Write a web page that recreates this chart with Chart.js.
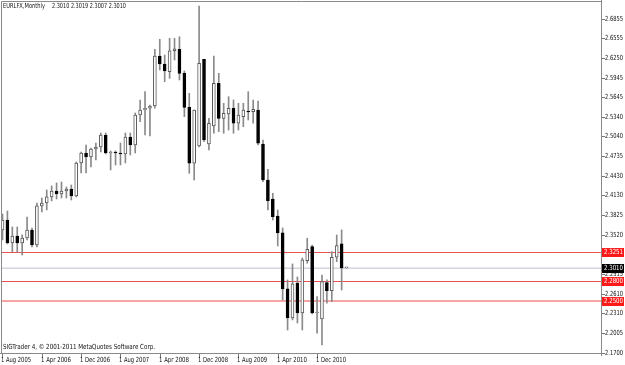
<!DOCTYPE html>
<html><head><meta charset="utf-8">
<script src="https://cdn.jsdelivr.net/npm/chart.js@4/dist/chart.umd.min.js"></script>
<style>html,body{margin:0;padding:0;background:#fff;overflow:hidden}canvas{display:block}</style>
</head><body>
<canvas id="c" width="625" height="365"></canvas>
<script>
const months = ["Aug 2005","Sep 2005","Oct 2005","Nov 2005","Dec 2005",
"Jan 2006","Feb 2006","Mar 2006","Apr 2006","May 2006","Jun 2006","Jul 2006","Aug 2006","Sep 2006","Oct 2006","Nov 2006","Dec 2006",
"Jan 2007","Feb 2007","Mar 2007","Apr 2007","May 2007","Jun 2007","Jul 2007","Aug 2007","Sep 2007","Oct 2007","Nov 2007","Dec 2007",
"Jan 2008","Feb 2008","Mar 2008","Apr 2008","May 2008","Jun 2008","Jul 2008","Aug 2008","Sep 2008","Oct 2008","Nov 2008","Dec 2008",
"Jan 2009","Feb 2009","Mar 2009","Apr 2009","May 2009","Jun 2009","Jul 2009","Aug 2009","Sep 2009","Oct 2009","Nov 2009","Dec 2009",
"Jan 2010","Feb 2010","Mar 2010","Apr 2010","May 2010","Jun 2010","Jul 2010","Aug 2010","Sep 2010","Oct 2010","Nov 2010","Dec 2010",
"Jan 2011","Feb 2011","Mar 2011","Apr 2011","May 2011","Jun 2011"];

const openP = [2.3596,2.3750,2.3395,2.3503,2.3395,2.3472,2.3596,2.3364,2.3967,2.4013,
2.4106,2.4198,2.4152,2.4198,2.4229,2.4121,2.4631,2.4785,2.4723,2.4847,
2.4878,2.5063,2.4785,2.4801,2.4785,2.4770,2.5032,2.4909,2.5372,2.5449,
2.5476,2.5511,2.6283,2.6160,2.6041,2.6365,2.6387,2.6016,2.5491,2.4627,
2.4893,2.6233,2.4924,2.5202,2.5862,2.5321,2.5388,2.5476,2.5244,2.5346,
2.5434,2.5423,2.5449,2.4924,2.4368,2.4075,2.3812,2.3550,2.2685,2.2237,
2.2777,2.2314,2.3122,2.3338,2.2314,2.2221,2.2782,2.2658,2.3174,2.3380,2.3010];
const highP = [2.3843,2.3889,2.3642,2.3642,2.3519,2.3797,2.3627,2.4013,2.4090,2.4214,
2.4276,2.4322,2.4337,2.4260,2.4291,2.4646,2.4801,2.4909,2.4862,2.4940,
2.5094,2.5094,2.4816,2.4816,2.4940,2.5094,2.5094,2.5403,2.5604,2.5732,
2.5527,2.6387,2.6541,2.6299,2.6557,2.6557,2.6582,2.6052,2.5707,2.5449,
2.7056,2.6233,2.5321,2.6283,2.6016,2.5553,2.5655,2.5604,2.5553,2.5553,
2.5732,2.5604,2.5588,2.4986,2.4534,2.4163,2.3905,2.3627,2.2824,2.3071,
2.2870,2.3163,2.3468,2.3364,2.2566,2.2901,2.2824,2.3261,2.3519,2.3596,2.3019];
const lowP = [2.3441,2.3380,2.3256,2.3256,2.3210,2.3441,2.3333,2.3333,2.3874,2.3905,
2.4044,2.4075,2.4090,2.4090,2.4059,2.4106,2.4476,2.4476,2.4569,2.4677,
2.4801,2.4770,2.4523,2.4600,2.4600,2.4631,2.4754,2.4785,2.5269,2.5063,
2.5048,2.5476,2.6067,2.5887,2.5939,2.6222,2.5913,2.5346,2.4472,2.4368,
2.4880,2.4960,2.4832,2.5090,2.5114,2.5090,2.5140,2.5090,2.5140,2.5191,
2.5295,2.5244,2.4909,2.4342,2.3905,2.3750,2.3349,2.2515,2.2051,2.2206,
2.2159,2.2051,2.3082,2.2298,2.2000,2.1820,2.2464,2.2488,2.3106,2.2669,2.3007];
const closeP = [2.3750,2.3395,2.3503,2.3395,2.3472,2.3596,2.3364,2.3967,2.4013,2.4106,
2.4198,2.4152,2.4198,2.4229,2.4121,2.4631,2.4785,2.4723,2.4847,2.4878,
2.5063,2.4785,2.4801,2.4785,2.4770,2.5032,2.4909,2.5372,2.5449,2.5476,
2.5511,2.6283,2.6160,2.6052,2.6365,2.6396,2.6016,2.5491,2.4627,2.5449,
2.6171,2.4986,2.5244,2.5862,2.5321,2.5398,2.5476,2.5244,2.5372,2.5449,
2.5419,2.5460,2.4935,2.4368,2.4049,2.3801,2.3550,2.2685,2.2237,2.2762,
2.2314,2.3133,2.3298,2.2314,2.2329,2.2797,2.2658,2.3174,2.3353,2.3010,2.3010];

const priceTicks = [2.6855,2.6555,2.6250,2.5945,2.5645,2.5340,2.5040,2.4735,2.4430,2.4130,2.3825,2.3520,2.3215,2.2915,2.2610,2.2310,2.2005,2.1700];
const redLevels = [2.3251, 2.2800, 2.2500];
const bidPrice = 2.3010;
const headerSymbol = "EURLFX,Monthly";
const headerValues = "2.3010 2.3019 2.3007 2.3010";
const footerText = "SIGTrader 4, \u00A9 2001-2011 MetaQuotes Software Corp.";
const dateLabelEvery = 8;

const wickData = months.map((m,i)=>({x:i, y:[lowP[i], highP[i]]}));
const bodyData = months.map((m,i)=>({x:i, y:[Math.min(openP[i],closeP[i]), Math.max(openP[i],closeP[i])]}));
const bull = months.map((m,i)=>closeP[i] >= openP[i]);

const FONT = '7px "DejaVu Sans"';

const mt4 = {
  id:'mt4',
  beforeDatasetsDraw(chart){
    const ctx = chart.ctx, y = chart.scales.y, a = chart.chartArea;
    ctx.save();
    // bid line
    let py = Math.round(y.getPixelForValue(bidPrice));
    ctx.fillStyle = '#d4d4dc';
    ctx.fillRect(a.left, py-0.5, a.right-a.left, 1.5);
    redLevels.forEach((v,k)=>{
      const p = Math.round(y.getPixelForValue(v));
      if (k === 2) { ctx.fillStyle = '#f6a4a4'; ctx.fillRect(a.left, p-1, a.right-a.left, 2); }
      else { ctx.fillStyle = '#e85252'; ctx.fillRect(a.left, p, a.right-a.left, 1); }
    });
    ctx.restore();
  },
  afterDatasetsDraw(chart){
    const ctx = chart.ctx, ys = chart.scales.y, xs = chart.scales.x, a = chart.chartArea;
    ctx.save();
    // frame
    ctx.strokeStyle = '#8a8a8a'; ctx.lineWidth = 1;
    ctx.beginPath();
    ctx.moveTo(1.5, 1.5); ctx.lineTo(601.5, 1.5);
    ctx.moveTo(1.5, 1.5); ctx.lineTo(1.5, 353.5);
    ctx.moveTo(0, 353.5); ctx.lineTo(602, 353.5);
    ctx.moveTo(601.5, 0); ctx.lineTo(601.5, 356);
    ctx.stroke();
    ctx.font = FONT; ctx.textBaseline = 'middle'; ctx.textAlign = 'left';
    // price ticks
    priceTicks.forEach(v=>{
      const p = Math.round(ys.getPixelForValue(v));
      ctx.fillStyle = '#777'; ctx.fillRect(602, p, 3, 1);
      ctx.fillStyle = '#111';
      ctx.fillText(v.toFixed(4), 605, p+0.5, 18);
    });
    // tags
    const tag = (v, bg)=>{
      const p = Math.round(ys.getPixelForValue(v));
      ctx.fillStyle = bg; ctx.fillRect(602, p-4, 22, 9);
      ctx.fillStyle = '#fff'; ctx.fillText(v.toFixed(4), 604, p+0.5, 19);
    };
    redLevels.forEach(v=>tag(v, '#ff1a1a'));
    tag(bidPrice, '#000');
    // date axis
    for (let i = 0; i < months.length; i += dateLabelEvery) {
      const px = Math.round(xs.getPixelForValue(i));
      ctx.fillStyle = '#777'; ctx.fillRect(px, 354, 1, 4);
      ctx.fillStyle = '#111';
      ctx.fillText('1 ' + months[i], px - 1, 360.5, 30);
    }
    // header & footer
    ctx.fillStyle = '#111';
    ctx.fillText(headerSymbol, 3, 6.5, 42);
    ctx.fillText(headerValues, 52, 6.5, 74);
    ctx.fillText(footerText, 3, 347.5, 152);
    ctx.restore();
  }
};

new Chart(document.getElementById('c'), {
  type:'bar',
  data:{
    labels: months,
    datasets:[
      {label:'wick', data: wickData, backgroundColor:'#8a8a8a', barThickness:1, grouped:false, order:2, borderWidth:0},
      {label:'body', data: bodyData,
       backgroundColor: bull.map(b=> b ? '#ffffff' : '#000000'),
       borderColor: bull.map(b=> b ? '#5a5a5a' : '#000000'),
       borderWidth:1, borderSkipped:false, barThickness:3, minBarLength:1, grouped:false, order:1}
    ]
  },
  options:{
    responsive:false, animation:false, devicePixelRatio:1,
    layout:{padding:{left:2, top:2, right:24, bottom:12}},
    plugins:{legend:{display:false}, tooltip:{enabled:false}, title:{display:false}},
    scales:{
      x:{type:'linear', min:-0.1017, max:121.77, offset:false, display:false},
      y:{type:'linear', min:2.16954, max:2.71176, display:false}
    }
  },
  plugins:[mt4]
});
</script>
</body></html>
